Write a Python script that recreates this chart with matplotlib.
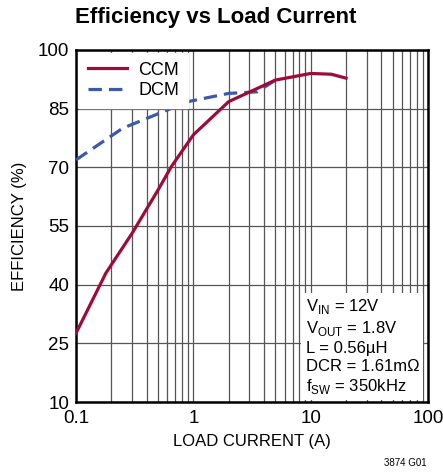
import matplotlib
matplotlib.use("Agg")
import matplotlib.pyplot as plt
from matplotlib.ticker import LogLocator, NullFormatter, FixedLocator

# data
ccm_i = [0.1, 0.18, 0.3, 0.5, 0.65, 1.0, 2.0, 5.0, 10.0, 15.0, 20.0]
ccm_eff = [27.6, 43.0, 53.1, 64.2, 70.2, 78.3, 86.8, 92.3, 94.0, 93.8, 92.8]
dcm_i = [0.1, 0.25, 0.9, 2.0, 3.5, 5.0]
dcm_eff = [71.9, 80.0, 86.8, 88.9, 89.3, 92.3]

yticks = [10, 25, 40, 55, 70, 85, 100]
xticks = [0.1, 1, 10, 100]
xticklabels = ["0.1", "1", "10", "100"]

plt.rcParams['font.family'] = ['Liberation Sans Narrow', 'Liberation Sans', 'DejaVu Sans']

fig = plt.figure(figsize=(4.43, 4.72), dpi=100)
ax = fig.add_axes([0.1716, 0.1483, 0.7946, 0.7458])

ax.plot(dcm_i, dcm_eff, color="#3d5aa8", lw=2.3, dashes=(4.2, 2.2), label="DCM", zorder=3)
ax.plot(ccm_i, ccm_eff, color="#9e0b38", lw=2.3, label="CCM", zorder=4)

ax.set_xscale("log")
ax.set_xlim(0.1, 100)
ax.set_ylim(10, 100)
ax.xaxis.set_major_locator(FixedLocator(xticks))
ax.set_xticklabels(xticklabels)
ax.xaxis.set_minor_locator(LogLocator(base=10, subs=range(2, 10)))
ax.xaxis.set_minor_formatter(NullFormatter())
ax.set_yticks(yticks)

ax.grid(True, which="major", color="#555555", lw=0.9)
ax.grid(True, which="minor", axis="x", color="#555555", lw=0.9)
ax.tick_params(which="both", length=0, labelsize=13.5)
ax.tick_params(axis="x", pad=6)
ax.tick_params(axis="y", pad=5)
for s in ax.spines.values():
    s.set_linewidth(1.8)

ax.set_xlabel("LOAD CURRENT (A)", fontsize=12, labelpad=5)
ax.set_ylabel("EFFICIENCY (%)", fontsize=12, labelpad=8)

handles, labels = ax.get_legend_handles_labels()
leg = ax.legend(handles[::-1], labels[::-1], loc="upper left", fontsize=13,
                frameon=True, fancybox=False, borderaxespad=0.15,
                handlelength=2.2, handletextpad=0.6, labelspacing=0.2,
                borderpad=0.5)
leg.get_frame().set_edgecolor("white")
leg.get_frame().set_alpha(1)
leg.set_zorder(5)

ax.text(0.652, 0.018,
        "V$_\\mathregular{IN}$ = 12V\nV$_\\mathregular{OUT}$ = 1.8V\nL = 0.56µH\nDCR = 1.61mΩ\nf$_\\mathregular{SW}$ = 350kHz",
        transform=ax.transAxes, ha="left", va="bottom", fontsize=12,
        linespacing=1.22, zorder=6,
        bbox=dict(facecolor="white", edgecolor="none", pad=3))

fig.text(0.17, 0.962, "Efficiency vs Load Current", fontsize=16, fontweight="bold",
         va="center", ha="left")
fig.text(0.962, 0.019, "3874 G01", fontsize=7, ha="right", va="center")

fig.savefig("out.png", dpi=100)
